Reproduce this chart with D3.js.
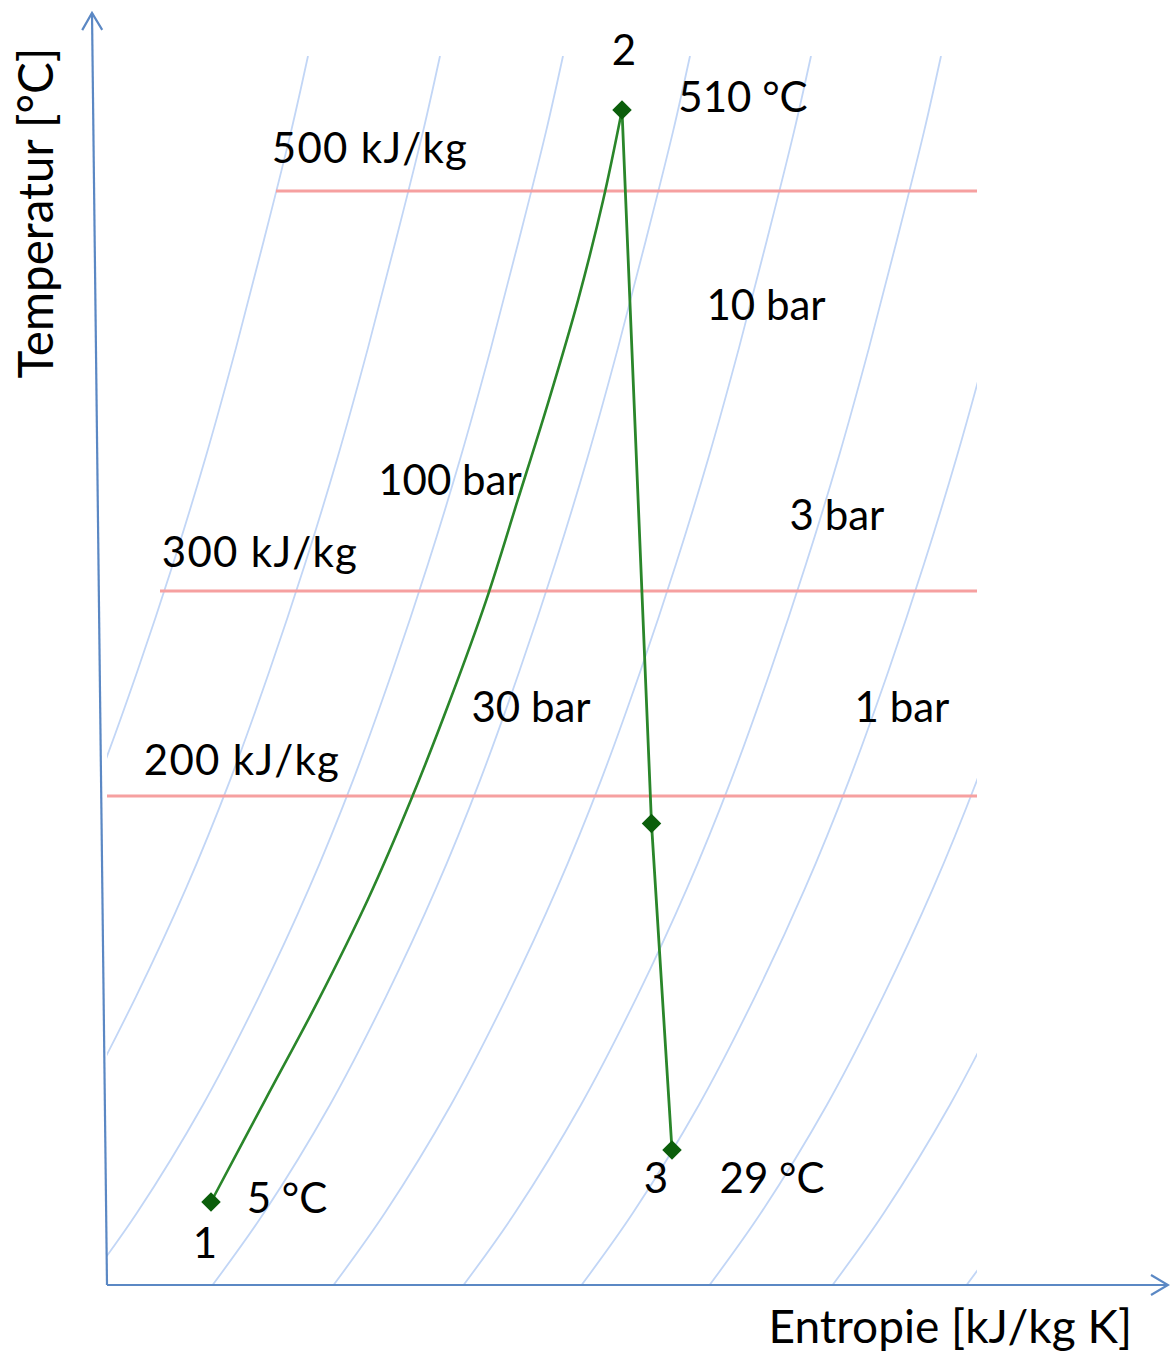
<!DOCTYPE html>
<html>
<head>
<meta charset="utf-8">
<script src="https://cdn.jsdelivr.net/npm/d3@7"></script>
<style>
  html, body { margin: 0; padding: 0; background: #fff; }
  svg { display: block; font-family: Lato, "Open Sans", sans-serif; }
</style>
</head>
<body>
<svg id="chart" width="1170" height="1353"></svg>
<script>
// T-s diagram of a steam cycle: heating at 100 bar (1 -> 2), expansion (2 -> 3)

// state points
const stateNames = ["1", "2", "3"];
const stateS = [1.04, 5.15, 5.65];      // entropy, diagram units
const stateT = [5, 510, 29];            // temperature, °C
const stateTempLabels = ["5 °C", "510 °C", "29 °C"];

// heating 1 -> 2 along the 100 bar isobar
const heatS = [1.04, 1.58, 2.11, 2.61, 3.04, 3.43, 3.79, 4.11, 4.42, 4.71, 4.96, 5.15];
const heatT = [5, 52, 98, 145, 191, 237, 283, 330, 376, 422, 468, 510];

// expansion 2 -> 3 with an intermediate state
const expS = [5.15, 5.445, 5.65];
const expT = [510, 180, 29];

// isobar shape: entropy shift against temperature
const isobarT  = [535, 500, 450, 400, 350, 300, 250, 200, 150, 100, 50, 0, -35];
const isobarDs = [0, -0.17, -0.44, -0.72, -1.02, -1.35, -1.71, -2.10, -2.54, -3.04, -3.60, -4.26, -4.80];
// entropy of each isobar at 535 °C
const isobarS0 = [2.01, 3.33, 4.56, 5.83, 7.04, 8.34, 9.52, 10.80, 12.03, 13.37];
const pressureLabels = ["100 bar", "30 bar", "10 bar", "3 bar", "1 bar"];

// lines of constant enthalpy
const enthalpyValues = [500, 300, 200];          // kJ/kg
const enthalpyStartS = [1.69, 0.53, 0];
const enthalpyLabels = ["500 kJ/kg", "300 kJ/kg", "200 kJ/kg"];

const axisTitleX = "Entropie [kJ/kg K]";
const axisTitleY = "Temperatur [°C]";

// ---------------------------------------------------------------
const plotRightS = 8.70;
const x  = d3.scaleLinear().domain([0, 10.61]).range([107, 1168]);
const y  = d3.scaleLinear().domain([5, 510]).range([1202, 110]);
const yH = d3.scaleLinear().domain([200, 300, 500]).range([796, 591, 191]);

const svg = d3.select("#chart");
const FONT = 42;

svg.append("defs").append("clipPath").attr("id", "plotArea")
  .append("rect")
  .attr("x", x(0)).attr("y", y(535))
  .attr("width", x(plotRightS) - x(0))
  .attr("height", 1285 - y(535));

// isobars
const isoLine = d3.line()
  .x(d => x(d[0])).y(d => y(d[1]))
  .curve(d3.curveCatmullRom);

const gIso = svg.append("g").attr("clip-path", "url(#plotArea)");
gIso.selectAll("path")
  .data(isobarS0.map(s0 => isobarT.map((t, i) => [s0 + isobarDs[i], t])))
  .join("path")
  .attr("d", isoLine)
  .attr("fill", "none")
  .attr("stroke", "#c2d6f6")
  .attr("stroke-width", 1.8);

// isenthalps
svg.append("g").selectAll("line")
  .data(enthalpyValues)
  .join("line")
  .attr("x1", (d, i) => x(enthalpyStartS[i]))
  .attr("x2", x(plotRightS))
  .attr("y1", d => yH(d)).attr("y2", d => yH(d))
  .attr("stroke", "#f6a0a0")
  .attr("stroke-width", 3.2);

// process lines
const heatLine = d3.line().x(d => x(d[0])).y(d => y(d[1])).curve(d3.curveCatmullRom);
const expLine = d3.line().x(d => x(d[0])).y(d => y(d[1]));
svg.append("path")
  .attr("d", heatLine(heatS.map((s, i) => [s, heatT[i]])))
  .attr("fill", "none").attr("stroke", "#2a862a").attr("stroke-width", 2.6);
svg.append("path")
  .attr("d", expLine(expS.map((s, i) => [s, expT[i]])))
  .attr("fill", "none").attr("stroke", "#2a862a").attr("stroke-width", 2.8);

// markers
const markerPts = [[stateS[0], stateT[0]]].concat(expS.map((s, i) => [s, expT[i]]));
svg.append("g").selectAll("path")
  .data(markerPts)
  .join("path")
  .attr("d", d3.symbol(d3.symbolSquare, 190))
  .attr("transform", d => `translate(${x(d[0])},${y(d[1])}) rotate(45)`)
  .attr("fill", "#0b5e0b");

// axes with open arrow heads
const axisColor = "#5b88c4";
function arrowAxis(x0, y0, x1, y1) {
  const len = Math.hypot(x1 - x0, y1 - y0);
  const ux = (x1 - x0) / len, uy = (y1 - y0) / len;
  const nx = -uy, ny = ux;
  const back = 17, half = 10;
  const g = svg.append("g").attr("fill", "none")
    .attr("stroke", axisColor).attr("stroke-width", 2.2);
  g.append("path").attr("d", `M${x0},${y0}L${x1},${y1}`);
  g.append("path").attr("d",
    `M${x1 - back * ux + half * nx},${y1 - back * uy + half * ny}` +
    `L${x1},${y1}` +
    `L${x1 - back * ux - half * nx},${y1 - back * uy - half * ny}`);
}
arrowAxis(x(0), 1285, 92, 13);
arrowAxis(x(0), 1285, 1168, 1285);

// text
function label(txt, cx, by, size, anchor) {
  return svg.append("text")
    .attr("x", cx).attr("y", by)
    .attr("text-anchor", anchor || "middle")
    .attr("font-size", size || FONT)
    .attr("fill", "#000")
    .text(txt);
}

// state numbers and temperatures, placed around their markers
const nameOffset = [[-6, 56], [2, -45], [-16, 43]];
const tempOffset = [[76, 11], [121, 2], [100, 43]];
stateNames.forEach((n, i) => {
  const px = x(stateS[i]), py = y(stateT[i]);
  label(n, px + nameOffset[i][0], py + nameOffset[i][1]);
  label(stateTempLabels[i], px + tempOffset[i][0], py + tempOffset[i][1]);
});

// enthalpy labels above their lines
const enthalpyLabelX = [370, 260, 242];
const enthalpyLabelGap = [28, 24, 21];
enthalpyLabels.forEach((t, i) =>
  label(t, enthalpyLabelX[i], yH(enthalpyValues[i]) - enthalpyLabelGap[i])
    .attr("letter-spacing", 1.3));

// pressure labels
const pressurePos = [[450, 495], [531, 722], [766, 320], [837, 530], [902, 722]];
pressureLabels.forEach((t, i) => label(t, pressurePos[i][0], pressurePos[i][1]));

// axis titles
label(axisTitleX, 1132, 1343, 46, "end");
svg.append("text")
  .attr("transform", "translate(53,213) rotate(-90)")
  .attr("text-anchor", "middle")
  .attr("font-size", 47.5)
  .text(axisTitleY);
</script>
</body>
</html>
